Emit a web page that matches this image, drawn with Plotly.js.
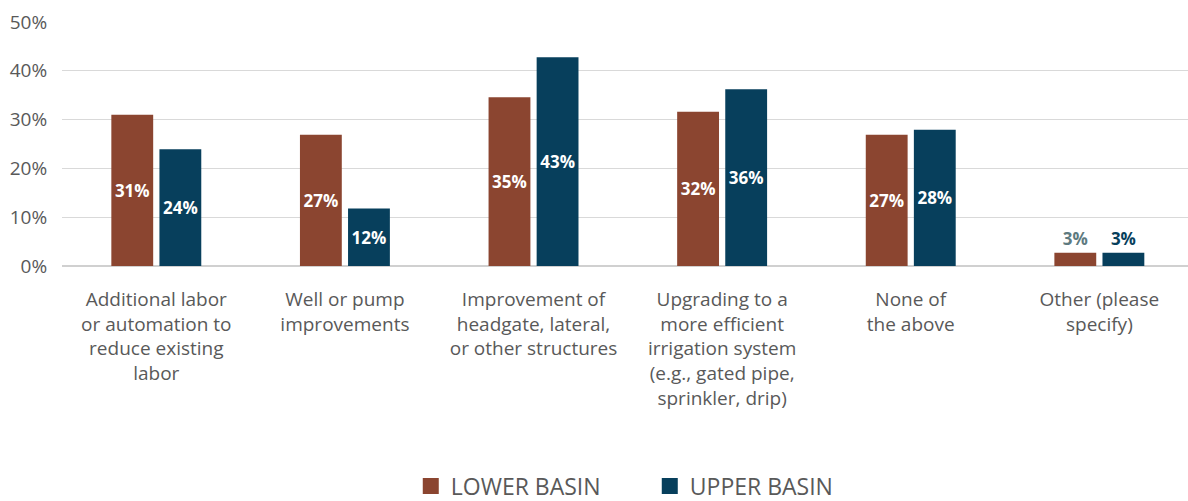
<!DOCTYPE html>
<html><head><meta charset="utf-8">
<script src="https://cdn.plot.ly/plotly-3.0.1.min.js"></script>
<style>html,body{margin:0;padding:0;background:#fff}#chart{width:1188px;height:501px}</style>
</head><body><div id="chart"></div>
<script>
const categories = [
  "Additional labor<br>or automation to<br>reduce existing<br>labor",
  "Well or pump<br>improvements",
  "Improvement of<br>headgate, lateral,<br>or other structures",
  "Upgrading to a<br>more efficient<br>irrigation system<br>(e.g., gated pipe,<br>sprinkler, drip)",
  "None of<br>the above",
  "Other (please<br>specify)"
];
const lowerBasin = [0.310, 0.269, 0.346, 0.316, 0.269, 0.027];
const upperBasin = [0.239, 0.118, 0.428, 0.362, 0.279, 0.027];
const seriesNames = ["LOWER BASIN", "UPPER BASIN"];
const yTicks = [0, 0.1, 0.2, 0.3, 0.4, 0.5];

const LOWER = "#8B4530", UPPER = "#073F5C", GREY = "#595959";
const FONT = "'Open Sans', sans-serif";

function posArr(vals){ return vals.map(v => v < 0.06 ? "outside" : "inside"); }
function colArr(vals, outColor){ return vals.map(v => v < 0.06 ? outColor : "#ffffff"); }

const traces = [
  {type:"bar", x:categories, y:lowerBasin, name:seriesNames[0], showlegend:false,
   marker:{color:LOWER}, texttemplate:"%{y:.0%}", textposition:posArr(lowerBasin),
   insidetextanchor:"middle", constraintext:"none", cliponaxis:false,
   textfont:{family:FONT, size:17, color:colArr(lowerBasin, "#5E7A7F"), weight:"bold"}},
  {type:"bar", x:categories, y:upperBasin, name:seriesNames[1], showlegend:false,
   marker:{color:UPPER}, texttemplate:"%{y:.0%}", textposition:posArr(upperBasin),
   insidetextanchor:"middle", constraintext:"none", cliponaxis:false,
   textfont:{family:FONT, size:17, color:colArr(upperBasin, UPPER), weight:"bold"}},
  {type:"scatter", mode:"markers", x:[null], y:[null], name:seriesNames[0],
   marker:{symbol:"square", size:20, color:LOWER}},
  {type:"scatter", mode:"markers", x:[null], y:[null], name:seriesNames[1],
   marker:{symbol:"square", size:20, color:UPPER}}
];

const layout = {
  width:1188, height:501,
  margin:{l:62, r:0, t:22, b:235},
  paper_bgcolor:"#fff", plot_bgcolor:"#fff",
  font:{family:FONT, color:GREY, size:19},
  barmode:"group", bargap:0.49, bargroupgap:0.13,
  xaxis:{type:"category", range:[-0.5, 5.47], tickfont:{size:19, color:GREY}, showgrid:false, zeroline:false,
         showline:false, ticks:"outside", ticklen:16, tickcolor:"rgba(0,0,0,0)", automargin:false},
  yaxis:{range:[0,0.5], tickvals:yTicks, tickformat:".0%", tickfont:{size:19, color:GREY},
         showgrid:true, gridcolor:"#D9D9D9", gridwidth:1, zeroline:true, zerolinecolor:"#D0D0D0",
         zerolinewidth:2, showline:false, ticks:"outside", ticklen:10, tickcolor:"rgba(0,0,0,0)",
         automargin:false},
  legend:{orientation:"h", x:0.522, xanchor:"center", xref:"paper", yref:"container", y:0.03, yanchor:"middle",
          font:{size:23, color:GREY, family:FONT}, itemsizing:"trace", entrywidth:194, entrywidthmode:"pixels",
          tracegroupgap:0, borderwidth:0},
  showlegend:true
};

Plotly.newPlot("chart", traces, layout, {displayModeBar:false, staticPlot:true});
</script></body></html>
